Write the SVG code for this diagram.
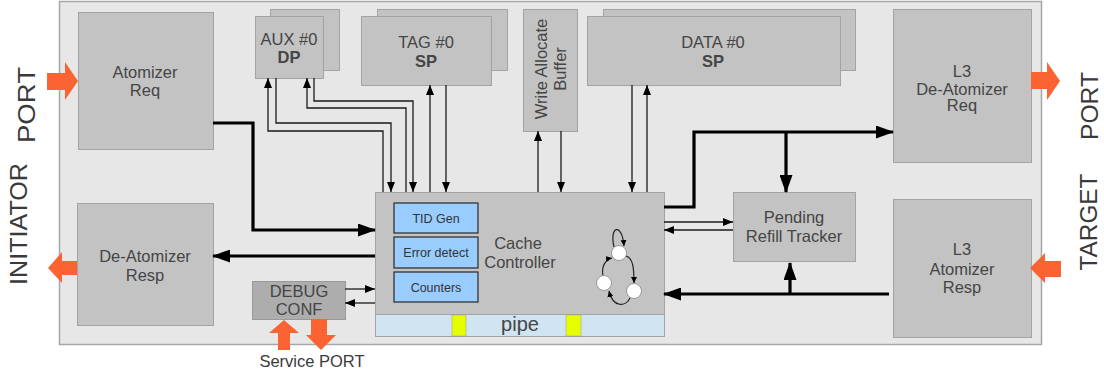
<svg xmlns="http://www.w3.org/2000/svg" width="1104" height="376" viewBox="0 0 1104 376">
<style>
.box{fill:#c3c3c3;stroke:#a3a3a3;stroke-width:1}
.lbl{font-family:"Liberation Sans",Arial,sans-serif;font-size:16.5px;fill:#454545;text-anchor:middle}
.b{font-weight:bold}
.blue{fill:#99ccff;stroke:#333;stroke-width:1.3}
.sm{font-family:"Liberation Sans",Arial,sans-serif;font-size:12.5px;fill:#333;text-anchor:middle}
.port{fill:#fb6332}
.big{font-family:"Liberation Sans",Arial,sans-serif;font-size:24px;fill:#3a3a3a;text-anchor:middle}
.thin{fill:none;stroke:#1a1a1a;stroke-width:1.3;marker-end:url(#ah)}
.thick{fill:none;stroke:#000;stroke-width:3.2;marker-end:url(#AH)}
.fsm{fill:none;stroke:#222;stroke-width:1.2;marker-end:url(#sa)}
.st{fill:#fff;stroke:#999;stroke-width:1}
</style>
<defs>
<marker id="ah" markerUnits="userSpaceOnUse" markerWidth="10" markerHeight="8" refX="10" refY="4" orient="auto"><path d="M0,0 L10,4 L0,8 z" fill="#000"/></marker>
<marker id="AH" markerUnits="userSpaceOnUse" markerWidth="18" markerHeight="13" refX="17" refY="6.5" orient="auto"><path d="M0,0 L18,6.5 L0,13 z" fill="#000"/></marker>
<marker id="sa" markerUnits="userSpaceOnUse" markerWidth="6" markerHeight="6" refX="6" refY="3" orient="auto"><path d="M0,0 L6,3 L0,6 z" fill="#000"/></marker>
</defs>
<rect width="1104" height="376" fill="#fff"/>
<rect id="outer" x="59.5" y="1.5" width="982" height="343" fill="#e7e7e7" stroke="#a6a6a6" stroke-width="1.5"/>

<g id="port-labels">
<text class="big" transform="translate(35,105) rotate(-90)" textLength="76" lengthAdjust="spacingAndGlyphs">PORT</text>
<text class="big" transform="translate(27,224) rotate(-90)" textLength="122" lengthAdjust="spacingAndGlyphs">INITIATOR</text>
<text class="big" transform="translate(1098,106) rotate(-90)" textLength="68" lengthAdjust="spacingAndGlyphs">PORT</text>
<text class="big" transform="translate(1097,222) rotate(-90)" textLength="97" lengthAdjust="spacingAndGlyphs">TARGET</text>
</g>

<g id="atomizer-req">
<rect class="box" x="78.5" y="12.5" width="135" height="137"/>
<text class="lbl" x="145" y="78">Atomizer</text>
<text class="lbl" x="145" y="96">Req</text>
<polygon class="port" points="47,73 65,73 65,62 78,81 65,100 65,90 47,90"/>
</g>

<g id="de-atomizer-resp">
<rect class="box" x="77.5" y="203.5" width="136" height="122"/>
<text class="lbl" x="145" y="262">De-Atomizer</text>
<text class="lbl" x="145" y="281">Resp</text>
<polygon class="port" points="77,261 62,261 62,252 48,268 62,283 62,275 77,275"/>
</g>

<g id="aux">
<rect class="box" x="270.5" y="9.5" width="69" height="61"/>
<rect class="box" x="255.5" y="16.5" width="68" height="62"/>
<text class="lbl" x="289" y="45">AUX #0</text>
<text class="lbl b" x="289" y="63">DP</text>
</g>

<g id="tag">
<rect class="box" x="377.5" y="9.5" width="130" height="61"/>
<rect class="box" x="361.5" y="16.5" width="130" height="69"/>
<text class="lbl" x="426" y="48">TAG #0</text>
<text class="lbl b" x="426" y="67">SP</text>
</g>

<g id="write-allocate-buffer">
<rect class="box" x="523.5" y="9.5" width="54" height="122"/>
<text class="lbl" transform="translate(547,69) rotate(-90)">Write Allocate</text>
<text class="lbl" transform="translate(566,69) rotate(-90)">Buffer</text>
</g>

<g id="data">
<rect class="box" x="603.5" y="9.5" width="252" height="61"/>
<rect class="box" x="587.5" y="16.5" width="253" height="69"/>
<text class="lbl" x="713" y="48">DATA #0</text>
<text class="lbl b" x="713" y="67">SP</text>
</g>

<g id="l3-de-atomizer-req">
<rect class="box" x="893.5" y="9.5" width="138" height="153"/>
<text class="lbl" x="962" y="77">L3</text>
<text class="lbl" x="962" y="95">De-Atomizer</text>
<text class="lbl" x="962" y="111">Req</text>
<polygon class="port" points="1031,72 1047,72 1047,62 1060,81 1047,100 1047,89 1031,89"/>
</g>

<g id="pending-refill-tracker">
<rect class="box" x="733.5" y="192.5" width="122" height="69"/>
<text class="lbl" x="794" y="223">Pending</text>
<text class="lbl" x="794" y="242">Refill Tracker</text>
</g>

<g id="l3-atomizer-resp">
<rect class="box" x="893.5" y="199.5" width="138" height="138"/>
<text class="lbl" x="962" y="255">L3</text>
<text class="lbl" x="962" y="275">Atomizer</text>
<text class="lbl" x="962" y="293">Resp</text>
<polygon class="port" points="1061,261 1045,261 1045,253 1030,268 1045,283 1045,277 1061,277"/>
</g>

<g id="debug-conf">
<rect x="252.5" y="281.5" width="93" height="38" fill="#adadad" stroke="#999"/>
<text class="lbl" x="299" y="297">DEBUG</text>
<text class="lbl" x="299" y="315">CONF</text>
<polygon class="port" points="278,350 278,333 269,333 284,320 299,333 290,333 290,350"/>
<polygon class="port" points="311,319 327,319 327,335 336,335 321,350 306,335 311,335"/>
<text x="312" y="367" font-family="Liberation Sans,Arial,sans-serif" font-size="16.5" fill="#3a3a3a" text-anchor="middle">Service PORT</text>
</g>

<g id="cache-controller">
<rect class="box" x="375.5" y="192.5" width="289" height="122"/>
<rect x="375.5" y="314.5" width="289" height="22" fill="#d0e4f1" stroke="#a3a3a3"/>
<rect x="452" y="315" width="14" height="21" fill="#e6ff00" stroke="#999" stroke-width="0.5"/>
<rect x="566" y="315" width="15" height="21" fill="#e6ff00" stroke="#999" stroke-width="0.5"/>
<text x="520" y="331" font-family="Liberation Sans,Arial,sans-serif" font-size="20" fill="#454545" text-anchor="middle">pipe</text>
<text class="lbl" x="518" y="249" font-size="17">Cache</text>
<text class="lbl" x="520" y="268" font-size="17">Controller</text>
<g id="tid-gen"><rect class="blue" x="394" y="203" width="84" height="30"/><text class="sm" x="436" y="223">TID Gen</text></g>
<g id="error-detect"><rect class="blue" x="394" y="237" width="84" height="31"/><text class="sm" x="436" y="257">Error detect</text></g>
<g id="counters"><rect class="blue" x="394" y="272" width="84" height="30"/><text class="sm" x="436" y="292">Counters</text></g>
<g id="fsm">
<path class="fsm" d="M614,247 C609,226 622,222 624,246"/>
<path class="fsm" d="M626,256 C633,258 634,268 634,283"/>
<path class="fsm" d="M630,298 C626,307 613,308 609,291"/>
<path class="fsm" d="M603,276 C601,266 606,259 612,258"/>
<circle class="st" cx="619" cy="253" r="7.5"/>
<circle class="st" cx="604" cy="283" r="7.5"/>
<circle class="st" cx="634" cy="291" r="7.5"/>
</g>
</g>

<g id="connectors">
<path class="thin" d="M383,192 V131 H268 V78"/>
<path class="thin" d="M276,78 V123 H391 V192"/>
<path class="thin" d="M406,192 V108 H307 V78"/>
<path class="thin" d="M314,78 V101 H413 V192"/>
<path class="thin" d="M430,192 V85"/>
<path class="thin" d="M446,85 V192"/>
<path class="thin" d="M538,192 V131"/>
<path class="thin" d="M561,131 V192"/>
<path class="thin" d="M632,85 V192"/>
<path class="thin" d="M647,192 V85"/>
<path class="thin" d="M664,222 H733"/>
<path class="thin" d="M733,230 H664"/>
<path class="thin" d="M345,289 H375"/>
<path class="thin" d="M375,303 H345"/>
<path class="thick" d="M213,123 H253 V230 H375"/>
<path class="thick" d="M375,256 H213"/>
<path class="thick" d="M664,207 H694 V132 H893"/>
<path class="thick" d="M786,132 V192"/>
<path class="thick" d="M889,294 H664"/>
<path class="thick" d="M790,294 V263"/>
</g>
</svg>
